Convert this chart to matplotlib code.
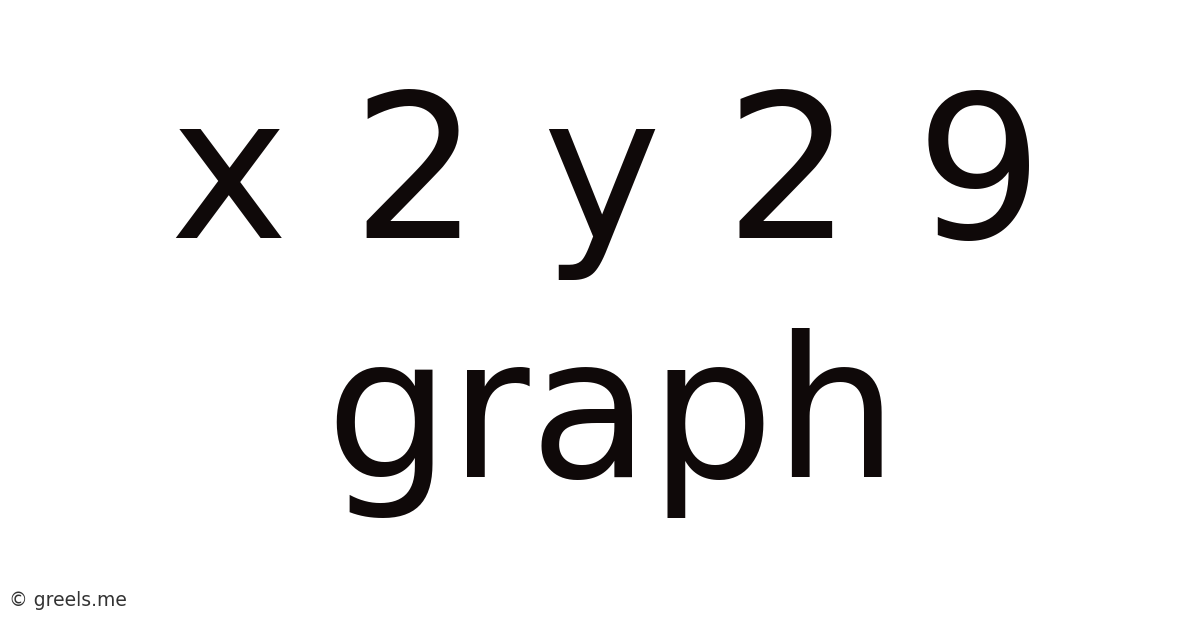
import matplotlib
matplotlib.use("Agg")
import matplotlib.pyplot as plt

# text lines of the title card
TITLE_LINES = ["x 2 y 2 9", "graph"]
FOOTER = "© greels.me"

TEXT_COLOR = "#0f0909"
FOOTER_COLOR = "#333333"

W, H = 1200, 628
fig = plt.figure(figsize=(W / 100, H / 100), dpi=100)
fig.patch.set_facecolor("white")

# centre x, baseline row (pixels) and size for each line
centres = [607, 612]
baselines = [238, 477]
sizes = [144, 141]
for line, xc, yb, fs in zip(TITLE_LINES, centres, baselines, sizes):
    fig.text(xc / W, 1 - yb / H, line, ha="center", va="baseline",
             fontsize=fs, color=TEXT_COLOR, family="DejaVu Sans")

fig.text(9 / W, 1 - 606 / H, FOOTER, ha="left", va="baseline",
         fontsize=13.5, color=FOOTER_COLOR, family="DejaVu Sans")

fig.savefig("out.png", dpi=100, facecolor="white")
